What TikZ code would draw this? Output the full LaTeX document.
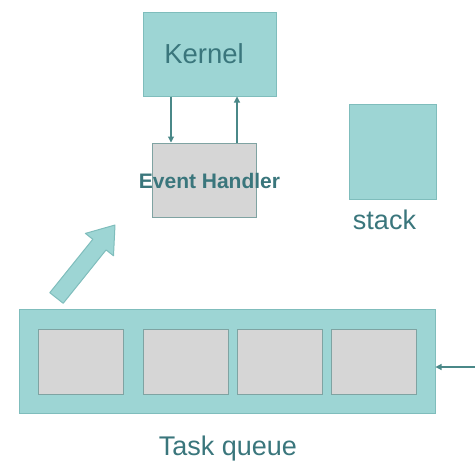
\documentclass[tikz,border=0pt]{standalone}
\usepackage{fontspec}
\setmainfont{Liberation Sans}
\usetikzlibrary{arrows.meta}
\definecolor{tealfill}{HTML}{9DD5D4}
\definecolor{tealedge}{HTML}{7FBDBC}
\definecolor{greyfill}{HTML}{D6D6D6}
\definecolor{greyedge}{HTML}{7FA3A2}
\definecolor{labeltext}{HTML}{3A767C}
\definecolor{linkline}{HTML}{4A8888}
\tikzset{
  tealbox/.style={draw=tealedge, fill=tealfill, line width=1pt, inner sep=0pt},
  greybox/.style={draw=greyedge, fill=greyfill, line width=1pt, inner sep=0pt},
  slotbox/.style={greybox, minimum width=85pt, minimum height=65pt},
  caption/.style={text=labeltext, font=\fontsize{27}{30}\selectfont, inner sep=0pt, anchor=base},
  link/.style={draw=linkline, line width=1.1pt, -{Triangle[length=6pt,width=6pt]}},
}
\begin{document}
\begin{tikzpicture}[x=1pt,y=-1pt]
\useasboundingbox (0,0) rectangle (475,461);

% kernel and its event handler
\node[tealbox, minimum width=133pt, minimum height=84pt] (kernel) at (209.5,54) {};
\node[caption, font=\fontsize{27.5}{30}\selectfont] (kernellabel) at (204,63) {Kernel};
\node[greybox, minimum width=104pt, minimum height=74pt] (eh) at (204,180) {};
\node[text=labeltext, font=\bfseries\fontsize{21}{24}\selectfont, inner sep=0pt]
      (ehlabel) at (209.5,180.5) {Event Handler};

\coordinate (down) at (171,0);
\coordinate (up) at (237,0);
\draw[link] (kernel.south -| down) -- (eh.north -| down);
\draw[link] (eh.north -| up) -- (kernel.south -| up);

% stack
\node[tealbox, minimum width=87pt, minimum height=95pt] (stack) at (392.5,151.5) {};
\node[caption] (stacklabel) at (384.5,229) {stack};

% task queue with its slots
\node[tealbox, minimum width=416pt, minimum height=104pt] (queue) at (227,361) {};
\node[slotbox] (slot1) at (80.5,361.5) {};
\node[slotbox] (slot2) at (185.5,361.5) {};
\node[slotbox] (slot3) at (279.5,361.5) {};
\node[slotbox] (slot4) at (373.5,361.5) {};
\node[caption] (queuelabel) at (228,455) {Task queue};

% incoming task
\coordinate (incoming) at (475,367);
\draw[link] (incoming) -- (queue.east |- incoming);

% block arrow from the queue towards the handler
\draw[tealbox, line join=round]
  (49.8,292.7) -- (92.8,239.3) -- (85.4,233.4) -- (115,225)
  -- (113.5,255.8) -- (106.1,249.9) -- (63.2,303.3) -- cycle;
\end{tikzpicture}
\end{document}
